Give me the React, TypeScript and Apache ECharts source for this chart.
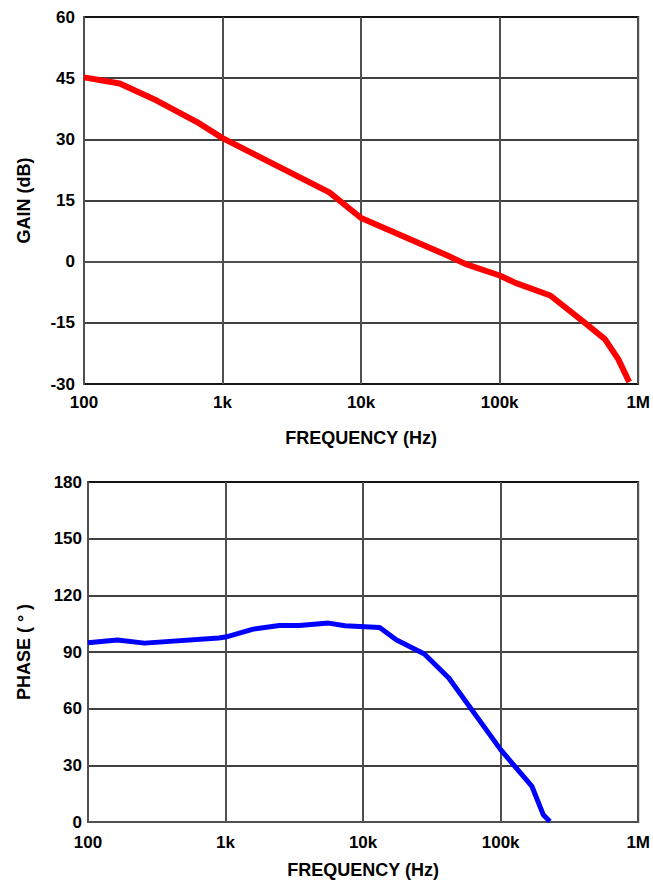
import React, { useEffect, useRef } from "react";
import * as echarts from "echarts";

const freqTicks = [100, 1000, 10000, 100000, 1000000];
const freqTickLabels = ["100", "1k", "10k", "100k", "1M"];

const gainFreq = [100, 181, 335, 650, 1000, 5900, 10000, 42000, 57000, 100000, 130000, 232000, 402000, 575000, 718000, 861000];
const gainDb = [45.2, 43.7, 39.5, 34.3, 30.3, 17, 10.7, 1.5, -0.6, -3.4, -5.2, -8.3, -14.7, -19.0, -23.9, -29.5];

const phaseFreq = [100, 164, 257, 890, 1000, 1590, 2460, 3430, 5600, 7400, 13200, 17400, 27900, 42000, 100000, 169000, 204000, 228000];
const phaseDeg = [94.9, 96.3, 94.7, 97.4, 97.9, 102.1, 104.0, 104.0, 105.3, 103.9, 103.0, 96.5, 88.9, 76.2, 38.3, 18.8, 3.9, 0.3];

const gainTicks = [-30, -15, 0, 15, 30, 45, 60];
const phaseTicks = [0, 30, 60, 90, 120, 150, 180];

const FONT = "'Liberation Sans', Arial, sans-serif";

export default function App() {
  const ref = useRef<HTMLDivElement>(null);
  useEffect(() => {
    if (!ref.current) return;
    const chart = echarts.init(ref.current, undefined, { renderer: "svg" });
    const tickStyle = { color: "#000", fontFamily: FONT, fontWeight: "bold" as const, fontSize: 17 };
    const nameStyle = { color: "#000", fontFamily: FONT, fontWeight: "bold" as const, fontSize: 18 };
    const fmtFreq = (v: number) => {
      const i = freqTicks.findIndex((t) => Math.abs(Math.log10(t) - Math.log10(v)) < 1e-6);
      return i >= 0 ? freqTickLabels[i] : "";
    };
    const xAxisBase = (gridIndex: number, nameGap: number, margin: number) => ({
      type: "log" as const,
      logBase: 10,
      gridIndex,
      min: 100,
      max: 1000000,
      name: "FREQUENCY (Hz)",
      nameLocation: "middle" as const,
      nameGap,
      nameTextStyle: { ...nameStyle },
      axisLine: { show: true, lineStyle: { color: "#505050", width: 2 } },
      axisTick: { show: false },
      axisLabel: { ...tickStyle, margin, formatter: fmtFreq, showMaxLabel: true, showMinLabel: true },
      splitLine: { show: true, lineStyle: { color: "#505050", width: 2 } },
      minorSplitLine: { show: false },
    });
    const yAxisBase = (gridIndex: number, name: string, min: number, max: number, interval: number, nameGap: number, margin: number) => ({
      type: "value" as const,
      gridIndex,
      min,
      max,
      interval,
      name,
      nameLocation: "middle" as const,
      nameGap,
      nameTextStyle: { ...nameStyle },
      axisLine: { show: true, lineStyle: { color: "#505050", width: 2 } },
      axisTick: { show: false },
      axisLabel: { ...tickStyle, margin },
      splitLine: { show: true, lineStyle: { color: "#000", width: 1.5 } },
    });
    chart.setOption({
      animation: false,
      backgroundColor: "#fff",
      grid: [
        { left: 84, top: 17, right: 13, height: 367, show: true, borderColor: "#505050", borderWidth: 2, containLabel: false },
        { left: 88, top: 482, right: 8, height: 340, show: true, borderColor: "#505050", borderWidth: 2, containLabel: false },
      ],
      xAxis: [xAxisBase(0, 45, 10), xAxisBase(1, 39, 12)],
      yAxis: [
        yAxisBase(0, "GAIN (dB)", gainTicks[0], gainTicks[gainTicks.length - 1], 15, 51, 9),
        yAxisBase(1, "PHASE ( \u00B0 )", phaseTicks[0], phaseTicks[phaseTicks.length - 1], 30, 55, 6),
      ],
      series: [
        {
          type: "line",
          xAxisIndex: 0,
          yAxisIndex: 0,
          data: gainFreq.map((f, i) => [f, gainDb[i]]),
          showSymbol: false,
          symbol: "none",
          lineStyle: { color: "#ff0000", width: 6 },
        },
        {
          type: "line",
          xAxisIndex: 1,
          yAxisIndex: 1,
          data: phaseFreq.map((f, i) => [f, phaseDeg[i]]),
          showSymbol: false,
          symbol: "none",
          lineStyle: { color: "#0000ff", width: 5 },
        },
      ],
    });
    return () => chart.dispose();
  }, []);
  return (
    <div
      ref={ref}
      style={{ position: "fixed", left: 0, top: 0, width: 653, height: 880, background: "#fff" }}
    />
  );
}
